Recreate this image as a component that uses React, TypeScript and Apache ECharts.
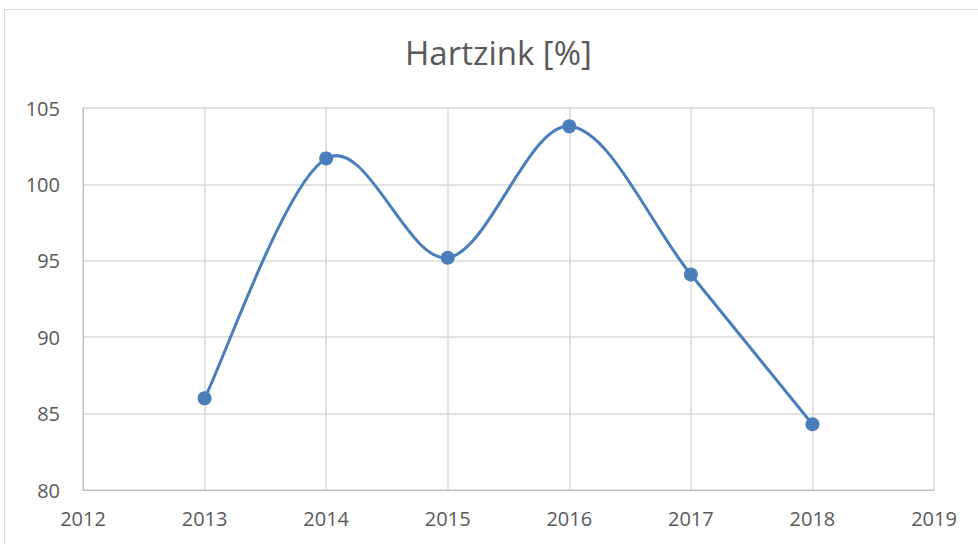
import React, { useEffect, useRef } from "react";
import * as echarts from "echarts";

const years = [2013, 2014, 2015, 2016, 2017, 2018];
const values = [86.0, 101.7, 95.2, 103.8, 94.1, 84.3];
const titleText = "Hartzink [%]";

export default function App() {
  const ref = useRef<HTMLDivElement>(null);
  useEffect(() => {
    if (!ref.current) return;
    const chart = echarts.init(ref.current, undefined, { renderer: "svg" });
    const font = "'Open Sans', 'Liberation Sans', sans-serif";
    const color = "#4a7ebb";
    const pts = years.map((y, i) => [y, values[i]]);
    chart.setOption({
      animation: false,
      backgroundColor: "#ffffff",
      textStyle: { fontFamily: font },
      title: {
        text: titleText,
        left: 405,
        top: 36,
        padding: 0,
        textStyle: { fontSize: 33, fontWeight: "normal", color: "#595959", fontFamily: font },
      },
      graphic: [
        {
          type: "rect",
          shape: { x: 4.5, y: 9.5, width: 1000, height: 600 },
          style: { fill: "none", stroke: "#d9d9d9", lineWidth: 1 },
          silent: true,
        },
      ],
      grid: { left: 83, right: 44, top: 108, bottom: 54, containLabel: false },
      xAxis: {
        type: "value",
        min: 2012,
        max: 2019,
        interval: 1,
        axisLine: { show: true, lineStyle: { color: "#bfbfbf", width: 1 } },
        axisTick: { show: false },
        splitLine: { show: true, lineStyle: { color: "#d9d9d9", width: 1.5 } },
        axisLabel: { color: "#595959", fontSize: 20, margin: 18, formatter: (v: number) => String(v) },
      },
      yAxis: {
        type: "value",
        min: 80,
        max: 105,
        interval: 5,
        axisLine: { show: true, lineStyle: { color: "#bfbfbf", width: 1 } },
        axisTick: { show: false },
        splitLine: { show: true, lineStyle: { color: "#d9d9d9", width: 1.5 } },
        axisLabel: { color: "#595959", fontSize: 20, margin: 23 },
      },
      series: [
        {
          type: "custom",
          data: pts.slice(0, pts.length - 1).map((p, i) => [p[0], p[1], i]),
          encode: { x: 0, y: 1 },
          z: 2,
          renderItem: (params: any, api: any) => {
            const i = api.value(2);
            const c = (k: number) => {
              const kk = Math.max(0, Math.min(pts.length - 1, k));
              return api.coord(pts[kk]);
            };
            const p0 = c(i - 1);
            const p1 = c(i);
            const p2 = c(i + 1);
            const p3 = c(i + 2);
            return {
              type: "bezierCurve",
              shape: {
                x1: p1[0],
                y1: p1[1],
                x2: p2[0],
                y2: p2[1],
                cpx1: p1[0] + (p2[0] - p0[0]) / 6,
                cpy1: p1[1] + (p2[1] - p0[1]) / 6,
                cpx2: p2[0] - (p3[0] - p1[0]) / 6,
                cpy2: p2[1] - (p3[1] - p1[1]) / 6,
              },
              style: { fill: "none", stroke: color, lineWidth: 3, lineCap: "round" },
            };
          },
        },
        {
          type: "scatter",
          data: pts,
          symbol: "circle",
          symbolSize: 14,
          z: 3,
          itemStyle: { color, opacity: 1 },
        },
      ],
    });
    return () => chart.dispose();
  }, []);
  return (
    <div
      ref={ref}
      style={{ position: "absolute", left: 0, top: 0, width: 978, height: 544 }}
    />
  );
}
